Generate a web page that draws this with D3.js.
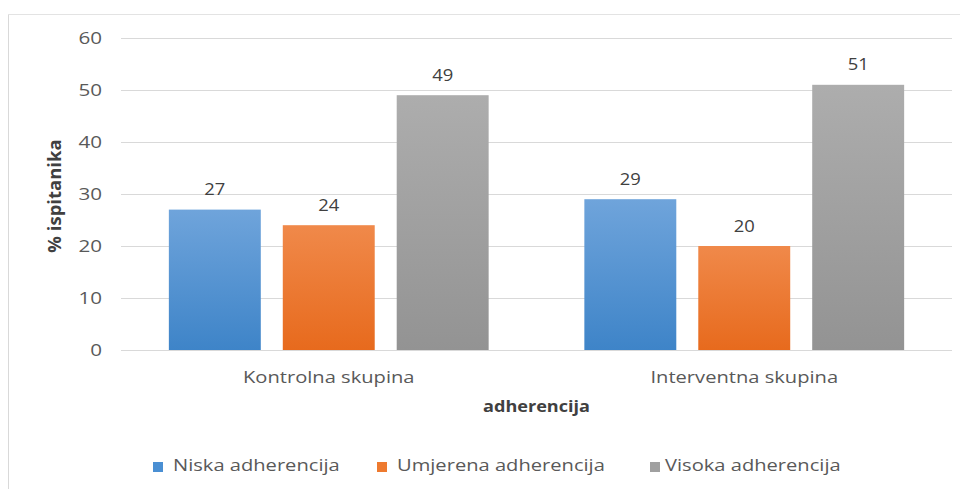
<!DOCTYPE html>
<html><head><meta charset="utf-8">
<script src="https://cdn.jsdelivr.net/npm/d3@7/dist/d3.min.js"></script>
<style>body{margin:0;background:#fff;} svg{display:block;} text{font-family:"Open Sans","Noto Sans",sans-serif;}</style>
</head><body>
<svg id="chart" width="966" height="489"></svg>
<script>
const categories = ["Kontrolna skupina", "Interventna skupina"];
const seriesNames = ["Niska adherencija", "Umjerena adherencija", "Visoka adherencija"];
const niska = [27, 29];
const umjerena = [24, 20];
const visoka = [49, 51];
const yTicks = [0, 10, 20, 30, 40, 50, 60];
const yTitle = "% ispitanika";
const xTitle = "adherencija";

(function () {
const seriesValues = [niska, umjerena, visoka];
const colorsTop = ["#6fa4db", "#f0894a", "#adadad"];
const colorsBot = ["#3e84c8", "#e76a1d", "#939393"];
const legendColors = ["#4a8fd3", "#ee7a2f", "#a0a0a0"];

const svg = d3.select("#chart");
const pLeft = 121, pRight = 952, pTop = 38, pBottom = 350;

function stext(parent, x, y, sx, anchor, size, fill, weight) {
  return parent.append("text")
    .attr("transform", `translate(${x},${y}) scale(${sx},1)`)
    .attr("text-anchor", anchor).attr("fill", fill)
    .style("font-size", size + "px").style("font-weight", weight || "normal");
}

// frame
svg.append("line").attr("x1", 8.5).attr("x2", 8.5).attr("y1", 14).attr("y2", 489).attr("stroke", "#d9d9d9");
svg.append("line").attr("x1", 8).attr("x2", 960).attr("y1", 14.5).attr("y2", 14.5).attr("stroke", "#e3e3e3");

const y = d3.scaleLinear().domain([0, 60]).range([pBottom, pTop]);
const x0 = d3.scaleBand().domain(categories).range([pLeft, pRight]);
const x1 = d3.scaleBand().domain(seriesNames).range([0, x0.bandwidth()]).paddingInner(0.193).paddingOuter(0.42);

// gradients
const defs = svg.append("defs");
seriesNames.forEach((s, i) => {
  const g = defs.append("linearGradient").attr("id", "g" + i).attr("x1", 0).attr("x2", 0).attr("y1", 0).attr("y2", 1);
  g.append("stop").attr("offset", "0%").attr("stop-color", colorsTop[i]);
  g.append("stop").attr("offset", "100%").attr("stop-color", colorsBot[i]);
});

// grid
const yAxis = d3.axisLeft(y).tickValues(yTicks).tickSize(-(pRight - pLeft)).tickFormat("");
const ga = svg.append("g").attr("transform", `translate(${pLeft},0)`).call(yAxis);
ga.select(".domain").remove();
ga.selectAll(".tick line").attr("stroke", "#d9d9d9");
ga.selectAll(".tick text").remove();
yTicks.forEach(t => {
  stext(svg, 102, y(t), 1.25, "end", 16.5, "#595959").attr("dy", "0.36em").text(t);
});

// bars
categories.forEach((c, ci) => {
  const g = svg.append("g").attr("transform", `translate(${x0(c)},0)`);
  seriesNames.forEach((s, si) => {
    const v = seriesValues[si][ci];
    g.append("rect").attr("x", x1(s)).attr("width", x1.bandwidth())
      .attr("y", y(v)).attr("height", y(0) - y(v)).attr("fill", `url(#g${si})`);
    stext(g, x1(s) + x1.bandwidth() / 2, y(v) - 14.5, 1.15, "middle", 16, "#404040").text(v);
  });
});

// x axis labels
categories.forEach(c => {
  stext(svg, x0(c) + x0.bandwidth() / 2, 383, 1.22, "middle", 16.5, "#595959").text(c);
});

// axis titles
stext(svg, (pLeft + pRight) / 2, 412, 1.13, "middle", 16, "#404040", "bold").text(xTitle);
svg.append("text").attr("transform", `translate(61,196) rotate(-90)`)
  .attr("text-anchor", "middle").attr("fill", "#404040").style("font-size", "18.5px").style("font-weight", "bold").text(yTitle);

// legend
const legX = [153, 377, 650];
const legTX = [173, 397, 665];
seriesNames.forEach((s, i) => {
  svg.append("rect").attr("x", legX[i]).attr("y", 462).attr("width", 10).attr("height", 10).attr("fill", legendColors[i]);
  stext(svg, legTX[i], 471, 1.22, "start", 16.5, "#595959").text(s);
});
})();
</script>
</body></html>
